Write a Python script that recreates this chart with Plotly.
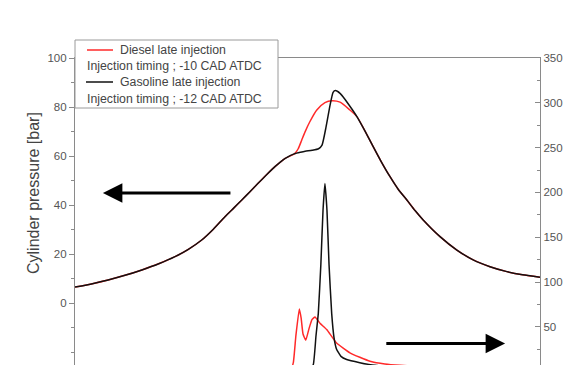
import plotly.graph_objects as go

# Crank angle [CAD ATDC] and cylinder pressure [bar]
cad_p_common_pre = [-40, -37, -34.3, -31.4, -28.5, -25.6, -22.8, -20.5, -18.2, -16.2, -14.2, -12.7, -11.3, -9.9, -8.5, -7, -5.6, -3.9, -2.2]
p_common_pre = [6.6, 8.0, 9.5, 11.4, 13.6, 16.1, 19.0, 22.0, 25.8, 30.2, 35.3, 38.8, 42.1, 45.5, 48.9, 52.5, 55.7, 59.0, 61.0]

cad_p_gas_mid = [-1.2, -0.4, 0.8, 1.9, 2.5, 3.2, 3.9, 4.4, 4.8, 5.6, 6.5, 7.6]
p_gas_mid = [61.6, 62.0, 62.4, 63.0, 64.5, 72.0, 81.0, 86.0, 86.7, 85.6, 83.0, 79.3]

cad_p_dsl_mid = [-1.6, -1.0, -0.4, 0.4, 1.6, 3.0, 4.2, 5.6, 7.3]
p_dsl_mid = [63.0, 66.5, 70.0, 74.0, 78.8, 81.8, 82.6, 82.0, 78.8]

cad_p_common_post = [8.5, 9.9, 11.3, 12.7, 14.2, 15.6, 17.1, 18.5, 19.9, 22.8, 25.7, 28.5, 31.4, 34.3, 37.0, 40.0]
p_common_post = [76.1, 70.2, 63.9, 57.7, 51.6, 46.5, 42.1, 37.8, 34.0, 27.2, 21.7, 17.7, 14.9, 12.9, 11.6, 10.6]

# Heat release rate (right axis)
cad_hrr_gas = [-40, -10, -0.4, 0.43, 1.0, 1.46, 1.86, 2.3, 2.67, 3.0, 3.35, 3.7, 4.16, 4.56, 5.0, 5.76, 6.74, 9.0, 11.6, 20, 40]
hrr_gas = [0, 0, 0, 3, 8, 40, 65, 120, 180, 210, 180, 120, 65, 38, 25, 17, 13.5, 10, 7, 4, 2]

cad_hrr_dsl = [-40, -10, -3.0, -2.44, -2.0, -1.41, -1.1, -0.77, -0.3, 0.26, 0.77, 1.29, 2.15, 3.3, 5.0, 7.3, 9.0, 10.75, 13.3, 15.9, 25, 40]
hrr_dsl = [0, 0, 0, 10, 40, 70, 60, 42, 35, 48, 58, 61, 54, 47, 32, 21, 16, 11.6, 8.5, 7, 4, 2]

cad_p_gas = cad_p_common_pre + cad_p_gas_mid + cad_p_common_post
p_gas = p_common_pre + p_gas_mid + p_common_post
cad_p_dsl = cad_p_common_pre + cad_p_dsl_mid + cad_p_common_post
p_dsl = p_common_pre + p_dsl_mid + p_common_post

RED = "#ff2a2a"
BLACK = "#111111"
AX = "#8a8a8a"
TXT = "#555555"

fig = go.Figure()
fig.add_trace(go.Scatter(x=cad_p_dsl, y=p_dsl, mode="lines", line=dict(color=RED, width=1.5, shape="spline", smoothing=0.6), showlegend=False))
fig.add_trace(go.Scatter(x=cad_p_gas, y=p_gas, mode="lines", line=dict(color=BLACK, width=1.5, shape="spline", smoothing=0.5), showlegend=False))
fig.add_trace(go.Scatter(x=cad_hrr_dsl, y=hrr_dsl, mode="lines", line=dict(color=RED, width=1.5, shape="spline", smoothing=0.4), yaxis="y2", showlegend=False))
fig.add_trace(go.Scatter(x=cad_hrr_gas, y=hrr_gas, mode="lines", line=dict(color=BLACK, width=1.5, shape="spline", smoothing=0.4), yaxis="y2", showlegend=False))

fig.update_layout(
    width=568, height=365,
    margin=dict(l=75, r=28, t=58, b=0),
    paper_bgcolor="white", plot_bgcolor="white",
    font=dict(family="Liberation Sans, Arial, sans-serif", color=TXT),
    xaxis=dict(range=[-40, 40], side="top", showline=True, linecolor=AX, linewidth=1.2,
               showticklabels=False, ticks="", showgrid=False, zeroline=False),
    yaxis=dict(range=[-25.16, 100], tickvals=[0, 20, 40, 60, 80, 100], showline=True, linecolor=AX,
               linewidth=1.2, ticks="outside", ticklen=5, tickcolor=AX, tickwidth=1.2,
               minor=dict(tickvals=[-20, -10, 10, 30, 50, 70, 90], ticks="outside", ticklen=3, tickcolor=AX),
               showgrid=False, zeroline=False, tickfont=dict(size=11.5, color=TXT)),
    yaxis2=dict(range=[7.4, 350], overlaying="y", side="right", tickvals=[50, 100, 150, 200, 250, 300, 350],
                showline=True, linecolor=AX, linewidth=1.2, ticks="inside", ticklen=5, tickcolor=AX, tickwidth=1.2,
                minor=dict(tickvals=[25, 75, 125, 175, 225, 275, 325], ticks="inside", ticklen=3, tickcolor=AX),
                showgrid=False, zeroline=False, tickfont=dict(size=11.5, color=TXT)),
)

# Direction arrows
fig.add_annotation(x=-35.2, y=45, xref="x", yref="y", ax=-13.0, ay=45, axref="x", ayref="y",
                   showarrow=True, arrowhead=2, arrowsize=1.3, arrowwidth=3, arrowcolor="black", text="")
fig.add_annotation(x=34.0, y=31.4, xref="x", yref="y2", ax=13.3, ay=31.4, axref="x", ayref="y2",
                   showarrow=True, arrowhead=2, arrowsize=1.3, arrowwidth=3, arrowcolor="black", text="")

# pixel -> paper helpers (paper spans the plot area: x 75..540, y 58..365)
def px(x): return (x - 75) / 465
def py(y): return (365 - y) / 307

# Y-axis title
fig.add_annotation(x=px(33), y=py(193), xref="paper", yref="paper", text="Cylinder pressure [bar]",
                   textangle=-90, showarrow=False, xanchor="center", yanchor="middle",
                   font=dict(size=16, color="#444444"))

# Legend box (manual)
fig.add_shape(type="rect", xref="paper", yref="paper", x0=px(75), x1=px(278), y0=py(40), y1=py(108),
              line=dict(color="#9a9a9a", width=1), fillcolor="white", layer="above")
fig.add_shape(type="line", xref="paper", yref="paper", x0=px(87), x1=px(113), y0=py(50), y1=py(50),
              line=dict(color=RED, width=1.5), layer="above")
fig.add_shape(type="line", xref="paper", yref="paper", x0=px(86), x1=px(113), y0=py(82), y1=py(82),
              line=dict(color=BLACK, width=1.5), layer="above")
legend_rows = [
    (118, 50, "Diesel late injection"),
    (85, 66, "Injection timing ; -10 CAD ATDC"),
    (118, 82, "Gasoline late injection"),
    (85, 99, "Injection timing ; -12 CAD ATDC"),
]
for lx, ly, t in legend_rows:
    fig.add_annotation(x=px(lx), y=py(ly), xref="paper", yref="paper", text=t, showarrow=False,
                       xanchor="left", yanchor="middle", font=dict(size=12.3, color="#444444"))

fig.write_html("out.html")
